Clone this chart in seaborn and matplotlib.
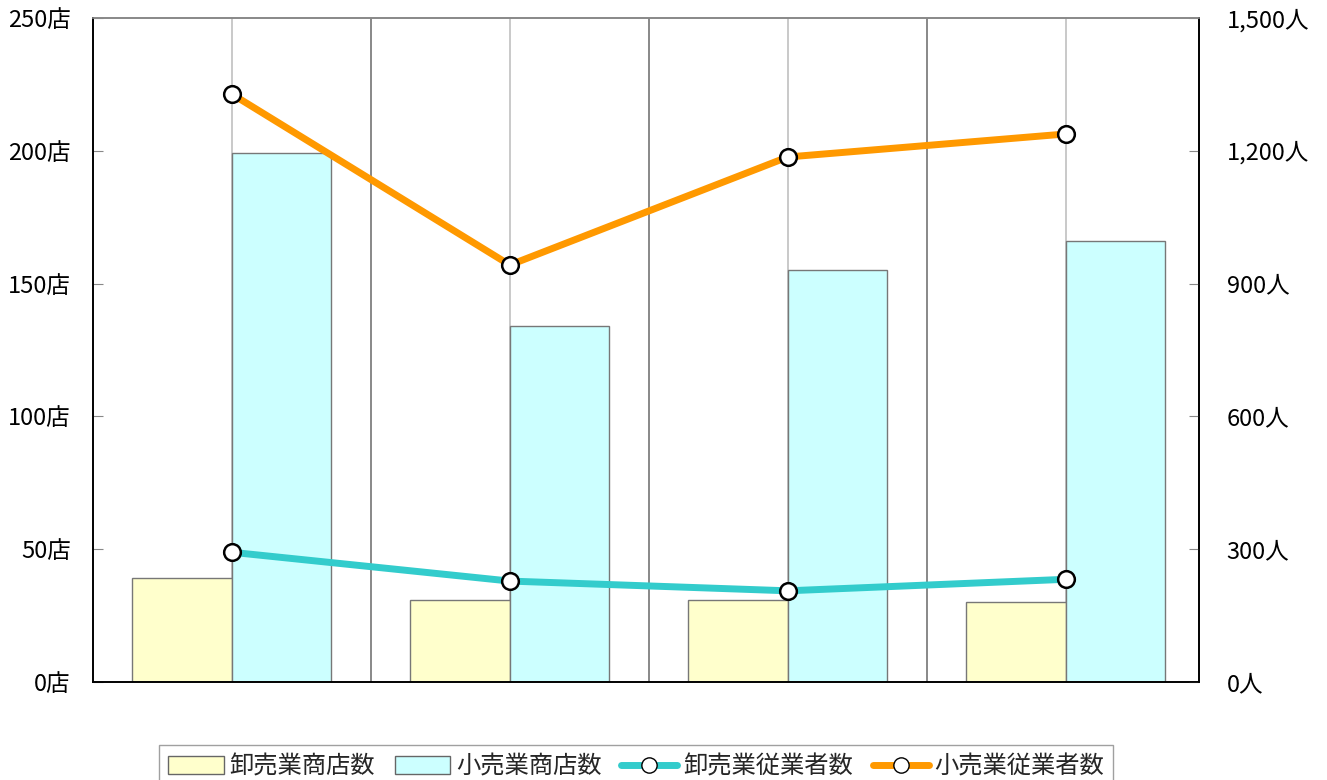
import numpy as np
import pandas as pd
import matplotlib
matplotlib.use("Agg")
import matplotlib.pyplot as plt
import seaborn as sns
from matplotlib.patches import Patch
from matplotlib.lines import Line2D

# data
groups = ["1", "2", "3", "4"]
wholesale_stores = [39, 31, 31, 30]
retail_stores = [199, 134, 155, 166]
wholesale_workers = [293, 228, 206, 232]
retail_workers = [1328, 942, 1186, 1238]

bar_names = ["卸売業商店数", "小売業商店数"]
line_names = ["卸売業従業者数", "小売業従業者数"]
left_ticks = [0, 50, 100, 150, 200, 250]
right_ticks = [0, 300, 600, 900, 1200, 1500]

BAR_COLORS = ["#FFFFCC", "#CCFFFF"]
LINE_COLORS = ["#33CCCC", "#FF9900"]

sns.set_theme(style="white")
plt.rcParams["font.family"] = ["Noto Sans CJK JP", "DejaVu Sans"]

fig = plt.figure(figsize=(13.27, 7.80), dpi=100)
ax = fig.add_axes([93 / 1327, 1 - 682 / 780, (1199 - 93) / 1327, (682 - 18) / 780])

df = pd.DataFrame({
    "group": groups * 2,
    "stores": wholesale_stores + retail_stores,
    "type": [bar_names[0]] * 4 + [bar_names[1]] * 4,
})
sns.barplot(data=df, x="group", y="stores", hue="type", palette=BAR_COLORS,
            saturation=1, width=0.716, gap=0, edgecolor="#777777", linewidth=1.0,
            ax=ax, legend=False, zorder=2)

# grid lines: light at group centers, darker between groups
for i in range(len(groups)):
    ax.axvline(i, color="#c0c0c0", lw=1.2, zorder=0)
for i in range(len(groups) - 1):
    ax.axvline(i + 0.5, color="#888888", lw=1.4, zorder=0)

XLIM = (-0.5, len(groups) - 0.52)
ax.set_xlim(*XLIM)
ax.set_ylim(0, 250)
ax.set_yticks(left_ticks)
ax.set_yticklabels([f"{v}店" for v in left_ticks])
ax.set_xticks([])
ax.set_xlabel("")
ax.set_ylabel("")
ax.tick_params(axis="y", direction="in", length=7, width=0.8, color="#888888",
               labelsize=17, pad=16, labelcolor="black")

ax2 = ax.twinx()
for vals, color, name in zip([wholesale_workers, retail_workers], LINE_COLORS, line_names):
    sns.lineplot(x=list(range(len(groups))), y=vals, ax=ax2, color=color, lw=5,
                 marker="o", markersize=12, markerfacecolor="white",
                 markeredgecolor="black", markeredgewidth=1.8, sort=False,
                 label=name, legend=False, zorder=5)
ax2.set_ylim(0, 1500)
ax2.set_yticks(right_ticks)
ax2.set_yticklabels([f"{v:,}人" for v in right_ticks])
ax2.tick_params(axis="y", direction="in", length=7, width=0.8, color="#888888",
                labelsize=17, pad=20, labelcolor="black")
ax2.set_ylabel("")
ax2.set_xlim(*XLIM)

for a in (ax, ax2):
    for side in ("left", "right", "bottom"):
        a.spines[side].set_color("black")
        a.spines[side].set_linewidth(1.2)
    a.spines["top"].set_color("#888888")
    a.spines["top"].set_linewidth(1.2)

handles = [
    Patch(facecolor=BAR_COLORS[0], edgecolor="#666666", label=bar_names[0]),
    Patch(facecolor=BAR_COLORS[1], edgecolor="#666666", label=bar_names[1]),
    Line2D([0], [0], color=LINE_COLORS[0], lw=5, marker="o", markersize=11,
           markerfacecolor="white", markeredgecolor="black", label=line_names[0]),
    Line2D([0], [0], color=LINE_COLORS[1], lw=5, marker="o", markersize=11,
           markerfacecolor="white", markeredgecolor="black", label=line_names[1]),
]
leg = fig.legend(handles=handles, loc="upper center", ncol=4,
                 bbox_to_anchor=(636 / 1327, 1 - 745 / 780), borderaxespad=0,
                 fontsize=17.5, frameon=True, fancybox=False, edgecolor="#888888",
                 handlelength=2.3, handletextpad=0.25, columnspacing=0.8,
                 borderpad=0.35)
leg.get_frame().set_linewidth(1.0)

fig.savefig("out.png", dpi=100)
